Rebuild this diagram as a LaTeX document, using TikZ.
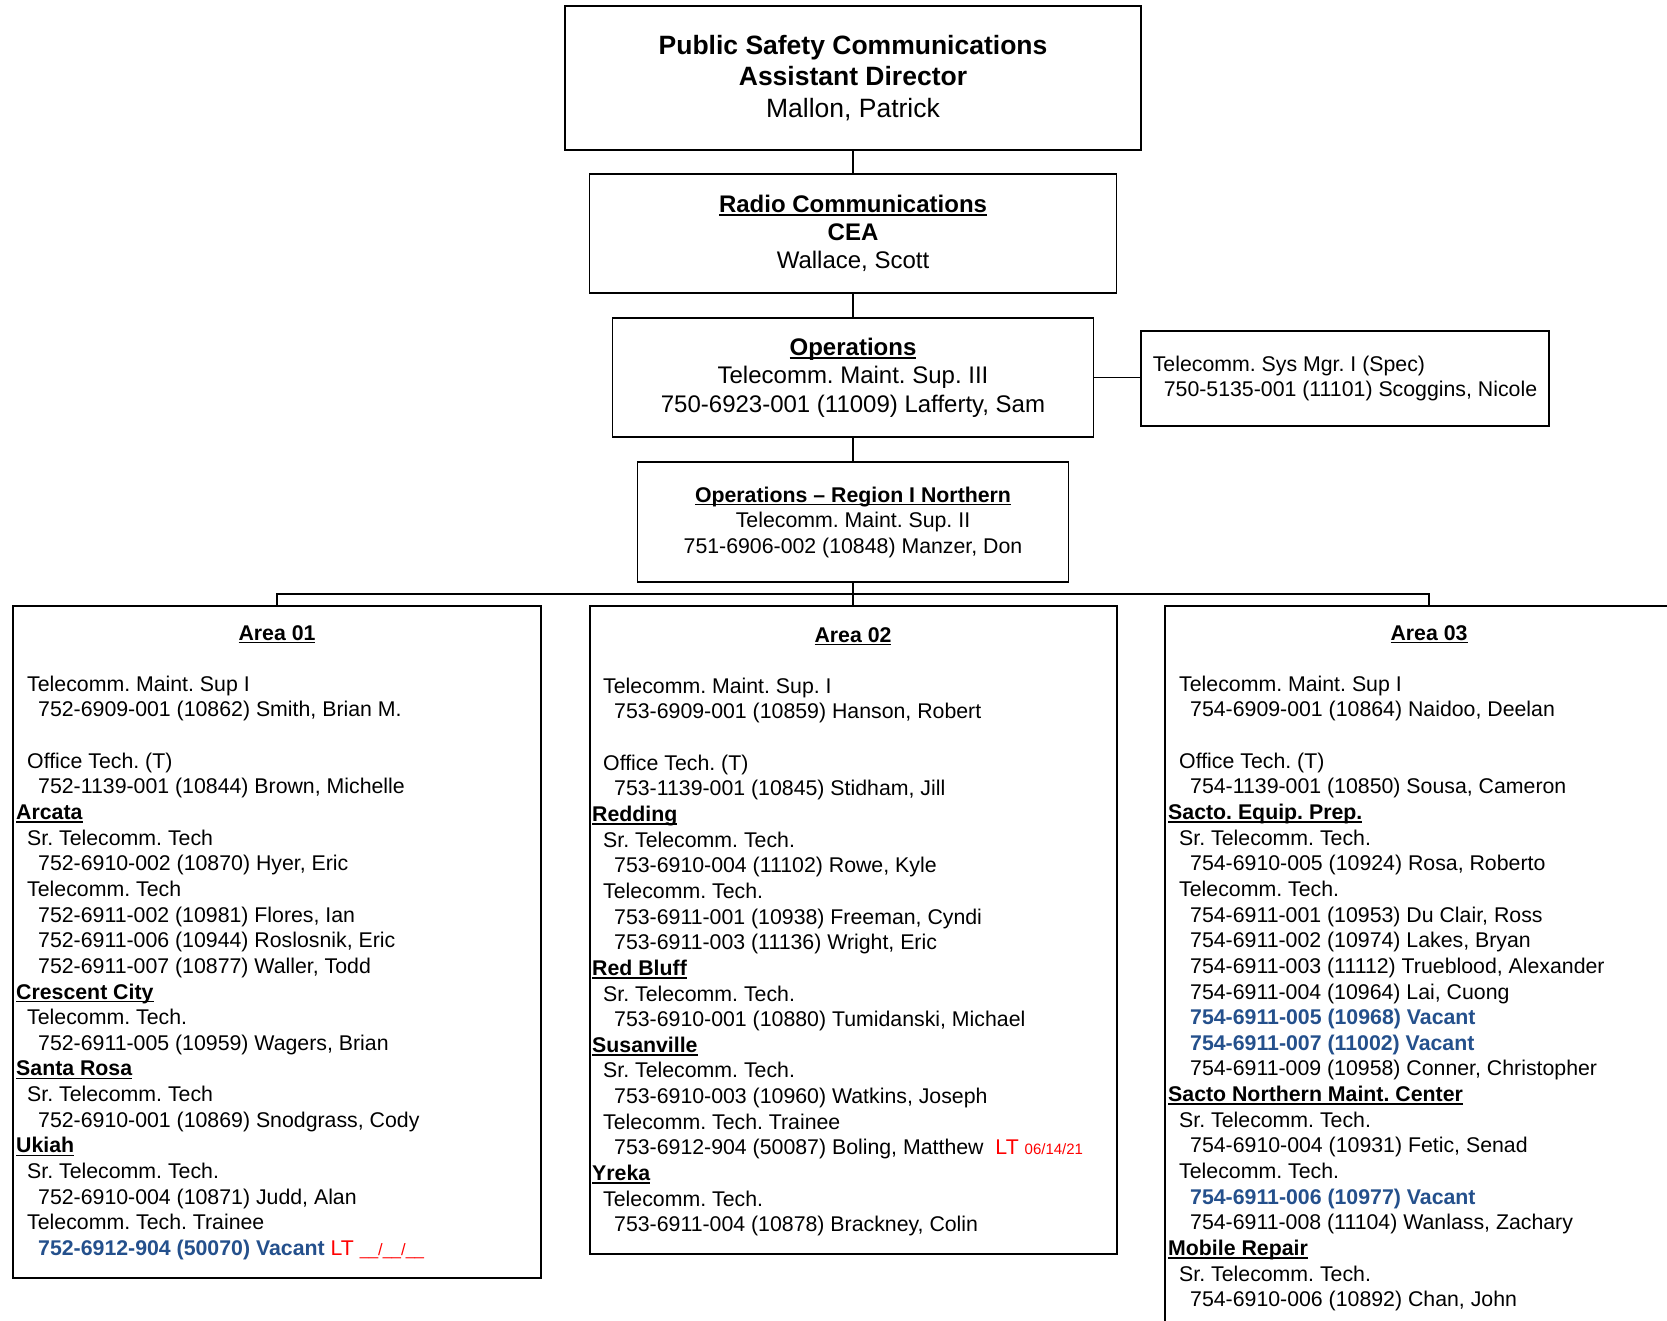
\documentclass[tikz,border=0pt]{standalone}
\usepackage{fontspec}
\setmainfont{Liberation Sans}
\frenchspacing

\definecolor{vacblue}{RGB}{36,80,140}

% underline that sits just under the baseline (crosses descenders, like Word)
\newsavebox{\undlbox}
\newcommand{\undl}[1]{\sbox{\undlbox}{#1}\rlap{\rule[-0.15em]{\wd\undlbox}{0.075em}}\usebox{\undlbox}}
\newcommand{\hd}[1]{{\bfseries\undl{#1}}}
\newcommand{\vac}[1]{{\bfseries\color{vacblue}#1}}
\newcommand{\ia}{\hspace*{11pt}}
\newcommand{\ib}{\hspace*{22pt}}
\newcommand{\smalldate}{\fontsize{15}{18}\selectfont}

\tikzset{
  orgbox/.style={draw, line width=1.8pt, align=center, inner sep=0pt},
  areabox/.style={draw, line width=2pt, minimum width=528pt, inner sep=0pt},
  conn/.style={line width=1.7pt},
  areahead/.style={anchor=base, inner sep=0pt, font=\fontsize{21.3}{25.65}\selectfont},
  bodytxt/.style={anchor=north west, align=left, inner sep=0pt, font=\fontsize{21.3}{25.65}\selectfont}
}

\begin{document}
\begin{tikzpicture}[x=1pt, y=-1pt]
% 1 unit = 1 px of the chart, y grows downwards
\useasboundingbox (0,0) rectangle (1667,1320);
\clip (0,0) rectangle (1667,1320);

% chain of command
\node[orgbox, minimum width=576pt, minimum height=144pt, font=\fontsize{26.5}{31.9}\selectfont] (dir) at (853,78)
  {\textbf{Public Safety Communications}\\\textbf{Assistant Director}\\Mallon, Patrick};
\node[orgbox, minimum width=527pt, minimum height=119pt, font=\fontsize{24}{28.2}\selectfont] (cea) at (853,233.5)
  {\hd{Radio Communications}\\\textbf{CEA}\\Wallace, Scott};
\node[orgbox, minimum width=481pt, minimum height=119pt, font=\fontsize{24}{28.7}\selectfont] (ops) at (853,377.5)
  {\hd{Operations}\\Telecomm. Maint. Sup. III\\750-6923-001 (11009) Lafferty, Sam};
\node[orgbox, minimum width=408pt, minimum height=95pt, align=left, font=\fontsize{21.3}{25.5}\selectfont] (spec) at (1345,378.5)
  {Telecomm. Sys Mgr. I (Spec)\\\ia 750-5135-001 (11101) Scoggins, Nicole};
\node[orgbox, minimum width=431pt, minimum height=120pt, font=\fontsize{21.3}{25.5}\selectfont] (reg) at (853,522)
  {\hd{Operations – Region I Northern}\\Telecomm. Maint. Sup. II\\751-6906-002 (10848) Manzer, Don};

% the three areas (Area 03 runs off the page)
\node[areabox, minimum height=672pt] (ar1) at (277,942) {};
\node[areabox, minimum width=527pt, minimum height=648pt] (ar2) at (853,930) {};
\node[areabox, minimum height=744pt] (ar3) at (1429,978) {};

\draw[conn] (dir) -- (cea);
\draw[conn] (cea) -- (ops);
\draw[conn] (ops) -- (reg);
\draw[conn] (ops.east) -- (ops.east -| spec.west);
\coordinate (bus) at (853,594);
\draw[conn] (reg) -- (ar2);
\draw[conn] (ar1.north) |- (bus) -| (ar3.north);

% Area 01
\node[areahead] (h1) at (277,640) {\hd{Area 01}};
\node[bodytxt] (t1) at (16,675) {\rule{0pt}{16pt}\ia Telecomm. Maint. Sup I\\
  \ib 752-6909-001 (10862) Smith, Brian M.\\[25.65pt]
  \ia Office Tech. (T)\\
  \ib 752-1139-001 (10844) Brown, Michelle\\
  \hd{Arcata}\\
  \ia Sr. Telecomm. Tech\\
  \ib 752-6910-002 (10870) Hyer, Eric\\
  \ia Telecomm. Tech\\
  \ib 752-6911-002 (10981) Flores, Ian\\
  \ib 752-6911-006 (10944) Roslosnik, Eric\\
  \ib 752-6911-007 (10877) Waller, Todd\\
  \hd{Crescent City}\\
  \ia Telecomm. Tech.\\
  \ib 752-6911-005 (10959) Wagers, Brian\\
  \hd{Santa Rosa}\\
  \ia Sr. Telecomm. Tech\\
  \ib 752-6910-001 (10869) Snodgrass, Cody\\
  \hd{Ukiah}\\
  \ia Sr. Telecomm. Tech.\\
  \ib 752-6910-004 (10871) Judd, Alan\\
  \ia Telecomm. Tech. Trainee\\
  \ib \vac{752-6912-904 (50070) Vacant} {\color{red}LT {\fontsize{16.5}{18}\selectfont\_\_/\_\_/\_\_}}};

% Area 02
\node[areahead] (h2) at (853,642) {\hd{Area 02}};
\node[bodytxt] (t2) at (592,677) {\rule{0pt}{16pt}\ia Telecomm. Maint. Sup. I\\
  \ib 753-6909-001 (10859) Hanson, Robert\\[25.65pt]
  \ia Office Tech. (T)\\
  \ib 753-1139-001 (10845) Stidham, Jill\\
  \hd{Redding}\\
  \ia Sr. Telecomm. Tech.\\
  \ib 753-6910-004 (11102) Rowe, Kyle\\
  \ia Telecomm. Tech.\\
  \ib 753-6911-001 (10938) Freeman, Cyndi\\
  \ib 753-6911-003 (11136) Wright, Eric\\
  \hd{Red Bluff}\\
  \ia Sr. Telecomm. Tech.\\
  \ib 753-6910-001 (10880) Tumidanski, Michael\\
  \hd{Susanville}\\
  \ia Sr. Telecomm. Tech.\\
  \ib 753-6910-003 (10960) Watkins, Joseph\\
  \ia Telecomm. Tech. Trainee\\
  \ib 753-6912-904 (50087) Boling, Matthew\ \ {\color{red}LT {\smalldate 06/14/21}}\\
  \hd{Yreka}\\
  \ia Telecomm. Tech.\\
  \ib 753-6911-004 (10878) Brackney, Colin};

% Area 03
\node[areahead] (h3) at (1429,640) {\hd{Area 03}};
\node[bodytxt] (t3) at (1168,675) {\rule{0pt}{16pt}\ia Telecomm. Maint. Sup I\\
  \ib 754-6909-001 (10864) Naidoo, Deelan\\[25.65pt]
  \ia Office Tech. (T)\\
  \ib 754-1139-001 (10850) Sousa, Cameron\\
  \hd{Sacto. Equip. Prep.}\\
  \ia Sr. Telecomm. Tech.\\
  \ib 754-6910-005 (10924) Rosa, Roberto\\
  \ia Telecomm. Tech.\\
  \ib 754-6911-001 (10953) Du Clair, Ross\\
  \ib 754-6911-002 (10974) Lakes, Bryan\\
  \ib 754-6911-003 (11112) Trueblood, Alexander\\
  \ib 754-6911-004 (10964) Lai, Cuong\\
  \ib \vac{754-6911-005 (10968) Vacant}\\
  \ib \vac{754-6911-007 (11002) Vacant}\\
  \ib 754-6911-009 (10958) Conner, Christopher\\
  \hd{Sacto Northern Maint. Center}\\
  \ia Sr. Telecomm. Tech.\\
  \ib 754-6910-004 (10931) Fetic, Senad\\
  \ia Telecomm. Tech.\\
  \ib \vac{754-6911-006 (10977) Vacant}\\
  \ib 754-6911-008 (11104) Wanlass, Zachary\\
  \hd{Mobile Repair}\\
  \ia Sr. Telecomm. Tech.\\
  \ib 754-6910-006 (10892) Chan, John};
\end{tikzpicture}
\end{document}
